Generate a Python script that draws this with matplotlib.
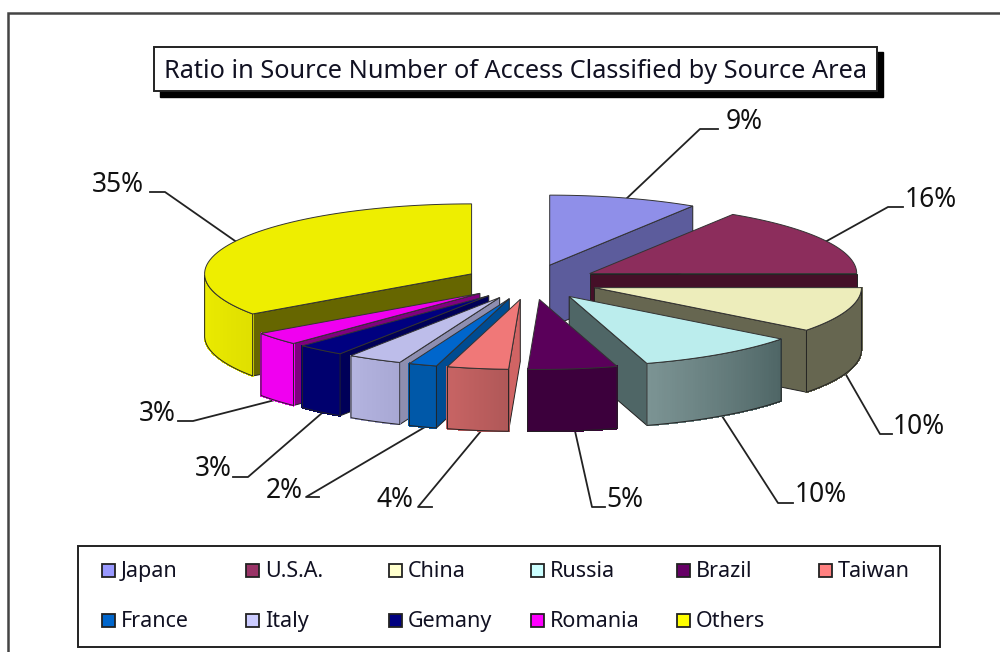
import numpy as np
import matplotlib
matplotlib.use('Agg')
import matplotlib.pyplot as plt
from matplotlib.patches import Polygon, Rectangle

plt.rcParams['font.family'] = ['Noto Sans', 'DejaVu Sans']

areas = ['Japan', 'U.S.A.', 'China', 'Russia', 'Brazil', 'Taiwan',
         'France', 'Italy', 'Gemany', 'Romania', 'Others']
shares = [9.0, 16.0, 10.4, 9.9, 5.4, 3.7, 1.7, 3.3, 2.9, 3.0, 34.7]
legend_colors = ['#9999FF', '#993366', '#FFFFCC', '#CCFFFF', '#660066', '#FF8080',
                 '#0066CC', '#CCCCFF', '#000080', '#FF00FF', '#FFFF00']
tops = ['#8F8FE9', '#8C2D5C', '#EDEDBB', '#BBEDED', '#5A005A', '#F07878',
        '#0066CC', '#BDBDEA', '#000080', '#F000F0', '#EEEE00']
sides = ['#5C5C9C', '#451028', '#666650', '#4F6666', '#3C003C', '#D06464',
         '#004C92', '#8E8EB0', '#000058', '#800080', '#666600']
walls_a = ['#5C5C9C', '#451028', '#666650', '#7C9494', '#3C003C', '#C86464',
           '#0058A8', '#B4B4E0', '#00006E', '#F000F0', '#EEEE00']
walls_b = ['#5C5C9C', '#451028', '#666650', '#4F6666', '#3C003C', '#B05858',
           '#0058A8', '#A8A8D4', '#00006E', '#F000F0', '#E0E000']

# label text spot and the leader line that goes to the slice
label_pos = [(744, 122), (931, 200), (919, 427), (821, 495), (625, 500), (395, 500),
             (284, 491), None, (213, 469), (157, 414), (118, 185)]
leaders = [[(718, 129), (700, 129), (625, 200)],
           [(903, 207), (888, 207), (825, 242)],
           [(892, 434), (880, 434), (845, 373)],
           [(793, 503), (778, 503), (722, 416)],
           [(605, 507), (592, 507), (575, 431)],
           [(432, 507), (418, 507), (481, 431)],
           [(319, 497), (306, 497), (425, 427)],
           None,
           [(233, 477), (248, 477), (322, 413)],
           [(178, 421), (193, 421), (275, 400)],
           [(150, 192), (165, 192), (238, 243)]]

cx, cy = 531, 282
rx, ry = 267, 70
explode = 67
depth = 62

def pt(x0, y0, ang, r=1.0):
    # ang in degrees, clockwise from 12 o'clock
    a = np.radians(ang)
    return x0 + r * rx * np.sin(a), y0 - r * ry * np.cos(a)

fig = plt.figure(figsize=(10, 6.52), dpi=100)
ax = fig.add_axes([0, 0, 1, 1])
ax.set_xlim(0, 1000)
ax.set_ylim(652, 0)
ax.axis('off')

# outer frame runs off the right and bottom of the picture
ax.add_patch(Rectangle((8, 13), 1040, 680, fc='white', ec='#444444', lw=1.8, zorder=0))

edges = np.concatenate([[0], np.cumsum(shares)]) * 360 / sum(shares)
# back slices first, the front ones get painted over them
order = [10, 9, 8, 7, 6, 5, 0, 1, 2, 3, 4]
z = 2
for i in order:
    a0, a1 = edges[i], edges[i + 1]
    mid = np.radians((a0 + a1) / 2)
    x0 = cx + explode * np.sin(mid)
    y0 = cy - explode * ry / rx * np.cos(mid)
    angs = np.linspace(a0, a1, 60)
    arc = np.array([pt(x0, y0, a) for a in angs])

    # cut faces
    if a1 < 180:
        ex, ey = pt(x0, y0, a1)
        ax.add_patch(Polygon([(x0, y0), (ex, ey), (ex, ey + depth), (x0, y0 + depth)],
                             fc=sides[i], ec='#222222', lw=0.7, zorder=z))
    if a0 > 180:
        ex, ey = pt(x0, y0, a0)
        ax.add_patch(Polygon([(x0, y0), (ex, ey), (ex, ey + depth), (x0, y0 + depth)],
                             fc=sides[i], ec='#222222', lw=0.7, zorder=z))

    # round outer wall, only the front part of it shows
    vis = (angs >= 90) & (angs <= 270)
    if vis.sum() > 1:
        va = arc[vis]
        c0 = np.array(matplotlib.colors.to_rgb(walls_a[i]))
        c1 = np.array(matplotlib.colors.to_rgb(walls_b[i]))
        # light end is on the left side of the wall
        if va[0, 0] > va[-1, 0]:
            va = va[::-1]
        for k in range(len(va) - 1):
            col = c0 + (c1 - c0) * k / (len(va) - 2)
            q = [va[k], va[k + 1], va[k + 1] + (0, depth), va[k] + (0, depth)]
            ax.add_patch(Polygon(q, fc=col, ec=col, lw=0.8, antialiased=False, zorder=z))
        out = np.vstack([va, va[::-1] + (0, depth)])
        ax.add_patch(Polygon(out, fc='none', ec='#222222', lw=0.7, zorder=z))

    ax.add_patch(Polygon(np.vstack([[(x0, y0)], arc]), fc=tops[i], ec='#333333', lw=0.7, zorder=z))
    z += 1

for i, area in enumerate(areas):
    if label_pos[i] is None:
        continue
    ax.text(label_pos[i][0], label_pos[i][1], '%d%%' % round(shares[i]), fontsize=19,
            ha='center', va='center', color='#111111', zorder=30)
    xs, ys = zip(*leaders[i])
    ax.plot(xs, ys, color='#222222', lw=1.3, zorder=1)

# title box with its shadow
ax.add_patch(Rectangle((160, 52), 723, 45, fc='black', ec='black', zorder=20))
ax.add_patch(Rectangle((154, 47), 723, 44, fc='white', ec='#222222', lw=1.4, zorder=21))
ax.text(515, 78, 'Ratio in Source Number of Access Classified by Source Area', fontsize=18.2,
        ha='center', va='baseline', color='#111122', zorder=22)

# legend
ax.add_patch(Rectangle((78, 546), 862, 101, fc='white', ec='#222222', lw=1.4, zorder=20))
col_x = [102, 246, 389, 531, 677, 819]
row_y = [570, 620]
for i, area in enumerate(areas):
    row, col = divmod(i, 6)
    ax.add_patch(Rectangle((col_x[col], row_y[row] - 6), 13, 13, fc=legend_colors[i],
                           ec='#222222', lw=1.3, zorder=21))
    ax.text(col_x[col] + 19, row_y[row] + 7, area, fontsize=15.5, ha='left', va='baseline',
            color='#111122', zorder=22)

fig.savefig('out.png', dpi=100)
